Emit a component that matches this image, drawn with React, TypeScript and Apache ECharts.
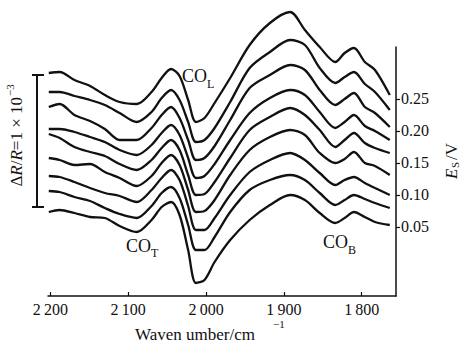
import React, { useEffect, useRef } from "react";
import * as echarts from "echarts";

// Wavenumber sample positions (cm^-1)
const wavenumbers = [2202, 2188, 2169, 2149, 2130, 2111, 2089, 2070, 2057, 2045, 2034, 2023, 2013, 2002, 1989, 1969, 1944, 1918, 1892, 1873, 1854, 1834, 1822, 1810, 1796, 1783, 1764];

// Stacked spectra (offset signal, a.u.), top to bottom
const spectrum1 = [223, 224, 216, 210, 201, 194, 192, 204, 218, 227, 220, 196, 174, 178, 193, 218, 251, 273, 284, 266, 249, 234, 243, 248, 234, 226, 201];
const spectrum2 = [204, 204, 200, 196, 191, 183, 174, 184, 198, 206, 196, 174, 154, 156, 168, 194, 228, 244, 256, 251, 228, 213, 219, 224, 212, 204, 186];
const spectrum3 = [189, 192, 181, 175, 167, 156, 156, 168, 181, 189, 178, 156, 136, 138, 150, 176, 208, 221, 231, 226, 206, 191, 197, 203, 189, 183, 169];
const spectrum4 = [167, 167, 164, 159, 154, 146, 141, 151, 163, 171, 161, 138, 118, 120, 132, 156, 183, 198, 206, 201, 184, 168, 174, 181, 170, 165, 156];
const spectrum5 = [162, 158, 149, 144, 140, 132, 126, 136, 148, 156, 146, 121, 101, 102, 114, 138, 166, 179, 188, 181, 166, 149, 156, 163, 153, 148, 143];
const spectrum6 = [138, 136, 131, 132, 124, 118, 110, 120, 133, 141, 131, 106, 84, 85, 96, 121, 146, 159, 166, 161, 143, 133, 137, 144, 133, 130, 121];
const spectrum7 = [120, 119, 114, 108, 103, 100, 94, 106, 118, 126, 116, 90, 66, 66, 78, 101, 124, 136, 143, 136, 123, 111, 116, 119, 113, 108, 101];
const spectrum8 = [105, 104, 99, 95, 88, 82, 78, 90, 103, 109, 98, 71, 46, 46, 59, 84, 106, 116, 121, 116, 103, 91, 96, 101, 97, 93, 88];
const spectrum9 = [84, 86, 83, 79, 78, 70, 64, 76, 89, 94, 81, 46, 13, 16, 34, 56, 76, 91, 101, 96, 83, 73, 78, 84, 79, 74, 71];

const spectra = [spectrum1, spectrum2, spectrum3, spectrum4, spectrum5, spectrum6, spectrum7, spectrum8, spectrum9];

// Tick labels
const xTicks = [2200, 2100, 2000, 1900, 1800];
const potentials = [0.05, 0.1, 0.15, 0.2, 0.25];

const FONT = "Liberation Serif";
const INK = "#111";

function fmtWn(v: number): string {
  const s = String(Math.round(v));
  return s.length === 4 ? s[0] + "\u2009" + s.slice(1) : s;
}

export default function App() {
  const ref = useRef<HTMLDivElement>(null);

  useEffect(() => {
    if (!ref.current) return;
    const chart = echarts.init(ref.current, null, { renderer: "svg" });

    const series = spectra.map((arr, i) => ({
      type: "line",
      name: "E" + (i + 1),
      xAxisIndex: 0,
      yAxisIndex: 0,
      data: wavenumbers.map((w, j) => [w, arr[j]]),
      symbol: "none",
      smooth: 0.3,
      lineStyle: { color: INK, width: 2.3 },
      silent: true,
    }));

    const txt = (x: number, y: number, text: string, size: number, extra: any = {}) => ({
      type: "text",
      x,
      y,
      style: {
        text,
        fill: INK,
        font: `${extra.italic ? "italic " : ""}${size}px "${FONT}"`,
        textAlign: extra.align || "left",
        textVerticalAlign: "middle",
      },
    });

    const option: any = {
      animation: false,
      backgroundColor: "#fff",
      grid: [
        { left: 48, right: 64, top: 0, bottom: 47 },
        { left: 48, right: 64, top: 47, bottom: 47 },
      ],
      xAxis: [
        {
          type: "value",
          gridIndex: 0,
          inverse: true,
          min: 1756,
          max: 2203,
          splitLine: { show: false },
          axisLine: { show: true, onZero: false, lineStyle: { color: INK, width: 1.5 } },
          axisTick: { show: true, inside: true, length: 4, customValues: xTicks, lineStyle: { color: INK, width: 1.2 } },
          axisLabel: {
            customValues: xTicks,
            formatter: (v: number) => fmtWn(v),
            color: INK,
            fontFamily: FONT,
            fontSize: 16,
            margin: 5,
          },
        },
        { type: "value", gridIndex: 1, show: false, min: 0, max: 1 },
      ],
      yAxis: [
        { type: "value", gridIndex: 0, show: false, min: 0, max: 296 },
        {
          type: "value",
          gridIndex: 1,
          position: "right",
          min: -0.058,
          max: 0.331,
          splitLine: { show: false },
          axisLine: { show: true, onZero: false, lineStyle: { color: INK, width: 1.5 } },
          axisTick: { show: true, inside: false, length: 4, customValues: potentials, lineStyle: { color: INK, width: 1.2 } },
          axisLabel: {
            customValues: potentials,
            formatter: (v: number) => v.toFixed(2),
            color: INK,
            fontFamily: FONT,
            fontSize: 16,
            margin: 5,
          },
        },
      ],
      series,
      graphic: [
        // Scale bar
        { type: "line", shape: { x1: 37, y1: 75, x2: 37, y2: 207 }, style: { stroke: INK, lineWidth: 2 } },
        { type: "line", shape: { x1: 32, y1: 75, x2: 44, y2: 75 }, style: { stroke: INK, lineWidth: 2 } },
        { type: "line", shape: { x1: 32, y1: 207, x2: 44, y2: 207 }, style: { stroke: INK, lineWidth: 2 } },
        {
          type: "group",
          x: 16,
          y: 136,
          rotation: Math.PI / 2,
          children: [
            {
              type: "text",
              x: 39,
              y: 0,
              style: {
                text: "\u0394{i|R}/{i|R}=1 \u00d7 10",
                rich: { i: { fontStyle: "italic", fontFamily: FONT, fontSize: 17, fill: INK } },
                fill: INK,
                font: `17px "${FONT}"`,
                textAlign: "right",
                textVerticalAlign: "middle",
              },
            },
            {
              type: "text",
              x: 40,
              y: -6,
              style: { text: "\u22123", fill: INK, font: `11px "${FONT}"`, textAlign: "left", textVerticalAlign: "middle" },
            },
          ],
        },
        // Right axis name E_S /V
        {
          type: "group",
          x: 451,
          y: 163,
          rotation: Math.PI / 2,
          children: [
            txt(-16, 0, "E", 17, { italic: true }),
            txt(-5, 4, "S", 11),
            txt(3, 0, "/V", 17),
          ],
        },
        // Annotations
        txt(182, 76, "CO", 18),
        txt(207, 84, "L", 12),
        txt(126, 246, "CO", 18),
        txt(151, 253, "T", 12),
        txt(323, 242, "CO", 18),
        txt(348, 250, "B", 12),
        // X axis name
        txt(135, 334, "Waven umber/cm", 17),
        txt(273, 324, "\u22121", 11),
      ],
    };

    chart.setOption(option);
    return () => chart.dispose();
  }, []);

  return (
    <div style={{ position: "fixed", left: 0, top: 0, width: 460, height: 343, background: "#fff" }}>
      <div ref={ref} style={{ width: 460, height: 343 }} />
    </div>
  );
}
